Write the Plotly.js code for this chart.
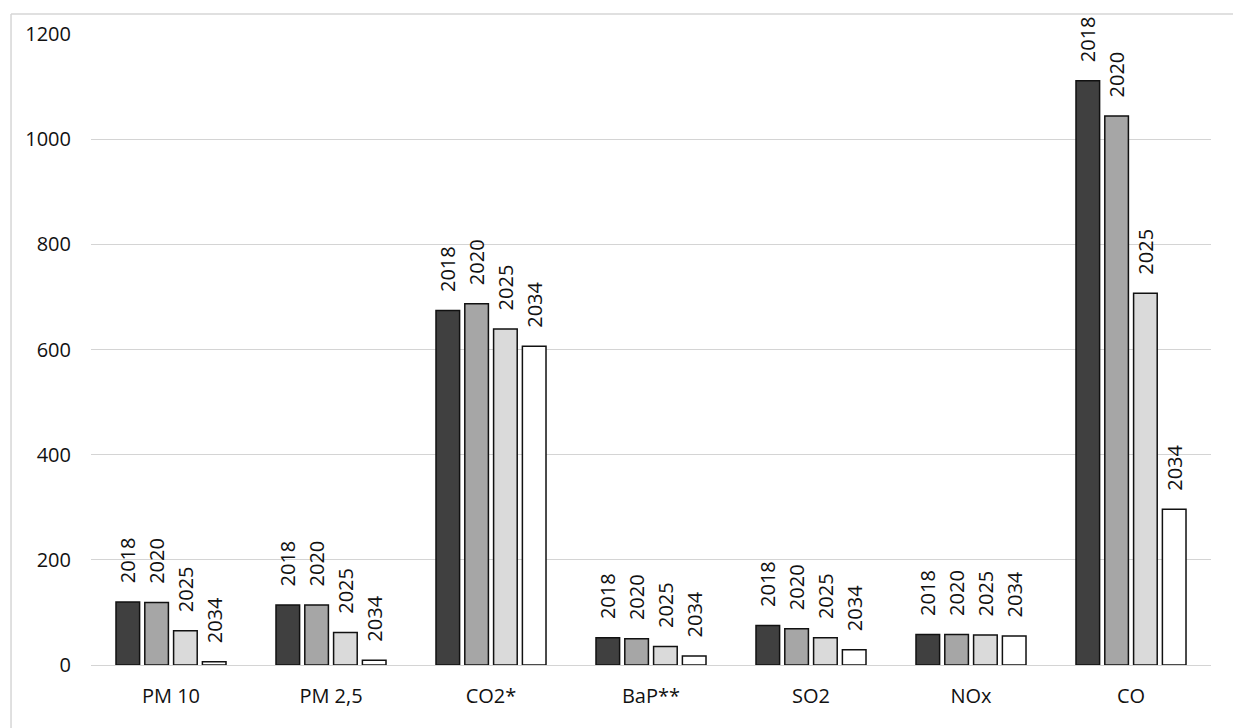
<!DOCTYPE html>
<html>
<head>
<meta charset="utf-8">
<script src="https://cdn.plot.ly/plotly-3.0.1.min.js"></script>
<style>
  html, body { margin: 0; padding: 0; background: #ffffff; }
  #chart { width: 1233px; height: 728px; }
</style>
</head>
<body>
<div id="chart"></div>
<script>
// ---- data ----
const categories = ['PM 10', 'PM 2,5', 'CO2*', 'BaP**', 'SO2', 'NOx', 'CO'];
const seriesNames = ['2018', '2020', '2025', '2034'];
const values2018 = [120, 114, 674, 52, 75, 58, 1111];
const values2020 = [119, 114, 687, 50, 69, 58, 1044];
const values2025 = [65, 62, 639, 35, 52, 57, 707];
const values2034 = [6, 9, 606, 17, 29, 55, 296];
const yTicks = [0, 200, 400, 600, 800, 1000, 1200];

const seriesValues = [values2018, values2020, values2025, values2034];
const fillColors = ['#404040', '#a6a6a6', '#dadada', '#ffffff'];
const FONT = 'Open Sans, Noto Sans, Liberation Sans, sans-serif';
const PAD = '\u00a0\u00a0\u00a0';

const traces = seriesNames.map((name, i) => ({
  type: 'bar',
  name: name,
  x: categories,
  y: seriesValues[i],
  text: seriesValues[i].map(() => PAD + name),
  textposition: 'outside',
  textangle: -90,
  constraintext: 'none',
  cliponaxis: false,
  outsidetextfont: { family: FONT, size: 20, color: '#111111' },
  marker: { color: fillColors[i], line: { color: '#111111', width: 1.5 } },
  hoverinfo: 'x+y+name'
}));

const layout = {
  width: 1233,
  height: 728,
  margin: { l: 91, r: 22, t: 34, b: 63 },
  paper_bgcolor: '#ffffff',
  plot_bgcolor: '#ffffff',
  showlegend: false,
  barmode: 'group',
  bargap: 0.28,
  bargroupgap: 0.18,
  font: { family: FONT, size: 20, color: '#111111' },
  xaxis: {
    type: 'category',
    showgrid: false,
    showline: false,
    zeroline: false,
    ticks: '',
    ticklabelstandoff: 17,
    tickfont: { family: FONT, size: 20, color: '#111111' }
  },
  yaxis: {
    range: [0, 1200],
    tickvals: yTicks,
    ticktext: yTicks.map(String),
    showgrid: true,
    gridcolor: '#d4d4d4',
    gridwidth: 1,
    zeroline: true,
    zerolinecolor: '#d4d4d4',
    zerolinewidth: 1,
    showline: false,
    ticks: '',
    ticklabelstandoff: 19,
    tickfont: { family: FONT, size: 20, color: '#111111' }
  },
  shapes: [
    { type: 'line', xref: 'paper', yref: 'paper', x0: -0.0714, x1: -0.0714, y0: -0.1, y1: 1.0317,
      line: { color: '#d6d6d6', width: 1.5 } },
    { type: 'line', xref: 'paper', yref: 'paper', x0: -0.0714, x1: 1.02, y0: 1.0317, y1: 1.0317,
      line: { color: '#d6d6d6', width: 1.5 } }
  ]
};

Plotly.newPlot('chart', traces, layout, { displayModeBar: false, staticPlot: true });
</script>
</body>
</html>
